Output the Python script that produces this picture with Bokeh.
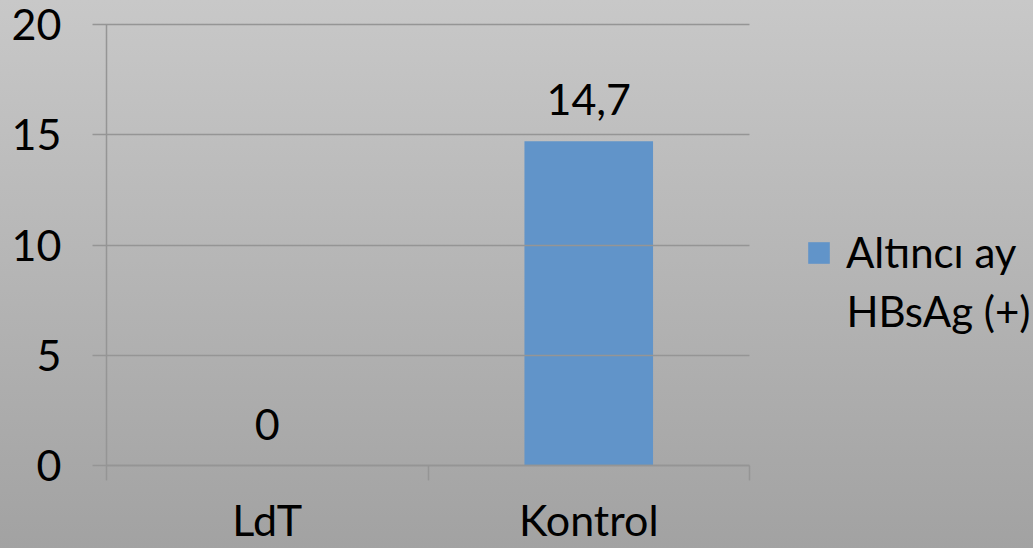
from bokeh.plotting import figure
from bokeh.models import (Range1d, LinearAxis, FixedTicker, LabelSet, Label,
                          Legend, LegendItem, ColumnDataSource)
from bokeh.core.properties import value
from bokeh.embed import file_html
from bokeh.resources import INLINE

categories = ["LdT", "Kontrol"]
values = [0, 14.7]
value_labels = ["0", "14,7"]
series_name = "Altıncı ay\nHBsAg (+)"
y_ticks = [0, 5, 10, 15, 20]

FONT = "Lato"
FS = "43px"
FS_LEG = "42px"
LINE = "#959595"
BAR = "#6194C9"

W, H = 1033, 548
LEFT, TOP, BOTTOM = 106, 24, 83
PLOT_PX = 643                      # width of the drawn chart area (px)
FRAME_PX = W - LEFT                # frame extends under the legend

n = len(categories)
centers = [i + 0.5 for i in range(n)]
edges = list(range(n + 1))
x_end = n * FRAME_PX / PLOT_PX

src = ColumnDataSource(dict(x=centers, val=values, lbl=value_labels))

p = figure(x_range=Range1d(0, x_end), y_range=Range1d(0, 20),
           width=W, height=H, output_backend="svg", toolbar_location=None,
           x_axis_location=None, y_axis_location=None,
           min_border_left=LEFT, min_border_right=0, min_border_top=TOP, min_border_bottom=BOTTOM)
for g in list(p.center):
    p.center.remove(g)
p.outline_line_color = None
p.background_fill_alpha = 0
p.border_fill_alpha = 0
p.styles = {"background": "linear-gradient(to bottom, #c8c8c8, #a2a2a2)"}

# y axis; its inward ticks act as the horizontal grid lines of the chart area
yax = LinearAxis(ticker=FixedTicker(ticks=y_ticks))
yax.axis_line_color = LINE
yax.axis_line_width = 1.5
yax.major_tick_line_color = LINE
yax.major_tick_line_width = 1.5
yax.major_tick_out = 14
yax.major_tick_in = PLOT_PX
yax.minor_tick_line_color = None
yax.major_label_standoff = 31
yax.major_label_text_font = FONT
yax.major_label_text_font_size = FS
yax.major_label_text_color = "black"
p.add_layout(yax, "left")

# boundary ticks axis
eax = LinearAxis(ticker=FixedTicker(ticks=edges), bounds=(0, n))
eax.axis_line_color = LINE
eax.axis_line_width = 1.5
eax.major_tick_line_color = LINE
eax.major_tick_line_width = 1.5
eax.major_tick_out = 15
eax.major_tick_in = 0
eax.minor_tick_line_color = None
eax.major_label_text_font_size = "1px"
eax.major_label_text_alpha = 0
eax.major_label_standoff = 0
p.add_layout(eax, "below")

# category label axis
cax = LinearAxis(ticker=FixedTicker(ticks=centers),
                 major_label_overrides={c: lab for c, lab in zip(centers, categories)})
cax.axis_line_color = None
cax.major_tick_line_color = None
cax.minor_tick_line_color = None
cax.major_tick_out = 0
cax.major_tick_in = 0
cax.major_label_standoff = 13
cax.major_label_text_font = FONT
cax.major_label_text_font_size = FS
cax.major_label_text_color = "black"
p.add_layout(cax, "below")

r = p.vbar(x="x", top="val", width=0.4, source=src, fill_color=BAR, line_color=None)

p.add_layout(LabelSet(x="x", y="val", text="lbl", source=src, text_align="center",
                      text_baseline="alphabetic", y_offset=26, text_font=value(FONT),
                      text_font_size=value(FS), text_color="black"))

lines = series_name.split("\n")
legend = Legend(items=[LegendItem(label=lines[0], renderers=[r])],
                location=(699, 188), padding=0, margin=0, glyph_width=27, glyph_height=27,
                label_standoff=14, label_text_font=FONT, label_text_font_size=FS_LEG,
                label_text_color="black", background_fill_alpha=0, border_line_color=None)
p.add_layout(legend)
p.add_layout(Label(x=699 + 27 + 14, y=155, x_units="screen", y_units="screen",
                   text=lines[1], text_font=FONT, text_font_size=FS_LEG, text_color="black",
                   text_baseline="middle"))

open("out.html", "w").write(file_html(p, INLINE))
